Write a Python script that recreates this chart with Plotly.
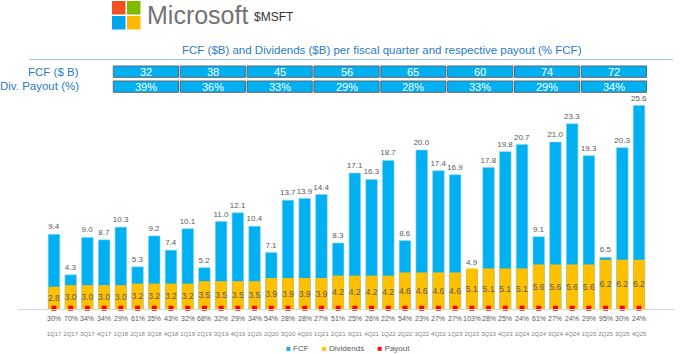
import plotly.graph_objects as go

quarters = ["1Q17","2Q17","3Q17","4Q17","1Q18","2Q18","3Q18","4Q18","1Q19","2Q19","3Q19","4Q19",
            "1Q20","2Q20","3Q20","4Q20","1Q21","2Q21","3Q21","4Q21","1Q22","2Q22","3Q22","4Q22",
            "1Q23","2Q23","3Q23","4Q23","1Q24","2Q24","3Q24","4Q24","1Q25","2Q25","3Q25","4Q25"]
fcf = [9.4,4.3,9.0,8.7,10.3,5.3,9.2,7.4,10.1,5.2,11.0,12.1,10.4,7.1,13.7,13.9,14.4,8.3,17.1,16.3,
       18.7,8.6,20.0,17.4,16.9,4.9,17.8,19.8,20.7,9.1,21.0,23.3,19.3,6.5,20.3,25.6]
dividends = [2.8,3.0,3.0,3.0,3.0,3.2,3.2,3.2,3.2,3.5,3.5,3.5,3.5,3.9,3.9,3.9,3.9,4.2,4.2,4.2,
             4.2,4.6,4.6,4.6,4.6,5.1,5.1,5.1,5.1,5.6,5.6,5.6,5.6,6.2,6.2,6.2]
payout = [30,70,34,34,29,61,35,43,32,68,32,29,34,54,28,28,27,51,25,26,22,54,23,27,27,103,28,25,
          24,61,27,24,29,95,30,24]
# Fiscal-year summary table (FY18..FY25), each spanning 4 quarters
fy_start_quarter = ["1Q18","1Q19","1Q20","1Q21","1Q22","1Q23","1Q24","1Q25"]
fy_fcf = [32,38,45,56,65,60,74,72]
fy_payout = [39,36,33,29,28,33,29,34]

W, H = 680, 354
L, R, T, B = 18, 5, 100, 45
PW, PH = W - L - R, H - T - B

def px_x(px):
    return (px - L) / PW

def px_y(py):
    return (H - B - py) / PH

BLUE = "#00B0F0"
YELLOW = "#FFC000"
RED = "#FF0000"
TXT = "#595959"
TITLE_BLUE = "#2B7BC4"
FONT = "Liberation Sans"

fig = go.Figure()
fig.add_trace(go.Bar(
    x=quarters, y=fcf, name="FCF", marker=dict(color=BLUE, line=dict(color="#7FD3F7", width=0.6)),
    text=[f"{v:.1f}" for v in fcf], textposition="outside", textangle=0,
    textfont=dict(size=8, color=TXT, family=FONT), constraintext="none", cliponaxis=False,
    showlegend=False))
fig.add_trace(go.Bar(
    x=quarters, y=dividends, name="Dividends", marker=dict(color=YELLOW, line=dict(width=0)),
    text=[f"{v:.1f}" for v in dividends], textposition="inside", insidetextanchor="middle",
    textangle=0, textfont=dict(size=8.5, color=TXT, family=FONT), constraintext="none",
    showlegend=False))
fig.add_trace(go.Scatter(
    x=quarters, y=[0.1] * len(quarters), name="Payout", mode="markers",
    marker=dict(symbol="square", size=5, color=RED), cliponaxis=False, showlegend=False))

shapes = []
annotations = []

# Payout % labels below the axis
for q, p in zip(quarters, payout):
    annotations.append(dict(x=q, y=0, xref="x", yref="y", yanchor="middle", xanchor="center",
                            yshift=-9, text=f"{p}%", showarrow=False,
                            font=dict(size=7, color=TXT, family=FONT)))

# Fiscal-year boxes
rows = [(66, 77.3, fy_fcf, "{}"), (81, 92.3, fy_payout, "{}%")]
for top, bot, vals, fmt in rows:
    for q, v in zip(fy_start_quarter, vals):
        i = quarters.index(q)
        shapes.append(dict(type="rect", xref="x", yref="paper", x0=i - 0.45, x1=i + 3.45,
                           y0=px_y(bot), y1=px_y(top), fillcolor=BLUE,
                           line=dict(color="#5A6570", width=1)))
        annotations.append(dict(x=i + 1.5, y=px_y((top + bot) / 2), xref="x", yref="paper",
                                xanchor="center", yanchor="middle",
                                text=fmt.format(v), showarrow=False,
                                font=dict(size=11, color="white", family=FONT)))

annotations.append(dict(x=px_x(81), y=px_y(72), xref="paper", yref="paper", xanchor="right",
                        yanchor="middle", text="FCF ($ B)", showarrow=False,
                        font=dict(size=11.5, color=TITLE_BLUE, family=FONT)))
annotations.append(dict(x=px_x(81), y=px_y(86.5), xref="paper", yref="paper", xanchor="right",
                        yanchor="middle", text="Div. Payout (%)", showarrow=False,
                        font=dict(size=11.5, color=TITLE_BLUE, family=FONT)))

# Title and underline
annotations.append(dict(x=px_x(382), y=px_y(50), xref="paper", yref="paper",
                        xanchor="center", yanchor="middle",
                        text="FCF ($B) and Dividends ($B) per fiscal quarter and respective payout (% FCF)",
                        showarrow=False, font=dict(size=11.5, color=TITLE_BLUE, family=FONT)))
shapes.append(dict(type="line", xref="paper", yref="paper", x0=px_x(29), x1=px_x(673),
                   y0=px_y(59.5), y1=px_y(59.5), line=dict(color="#9DC3E6", width=1)))

# Logo
for (x0, y0, c) in [(112, 1, "#F25022"), (127, 1, "#7FBA00"), (112, 16, "#00A4EF"), (127, 16, "#FFB900")]:
    shapes.append(dict(type="rect", xref="paper", yref="paper", x0=px_x(x0), x1=px_x(x0 + 13.5),
                       y0=px_y(y0 + 13.5), y1=px_y(y0), fillcolor=c, line=dict(width=0)))
annotations.append(dict(x=px_x(145), y=px_y(15), xref="paper", yref="paper", xanchor="left",
                        yanchor="middle", text="Microsoft", showarrow=False,
                        font=dict(size=25, color="#737373", family=FONT)))
annotations.append(dict(x=px_x(252), y=px_y(17), xref="paper", yref="paper", xanchor="left",
                        yanchor="middle", text="$MSFT", showarrow=False,
                        font=dict(size=12, color="#333333", family=FONT)))

# Legend
legend_text = (f"<span style='color:{BLUE}'>■</span> FCF      "
               f"<span style='color:{YELLOW}'>■</span> Dividends      "
               f"<span style='color:{RED}'>■</span> Payout")
annotations.append(dict(x=px_x(348), y=px_y(348), xref="paper", yref="paper",
                        xanchor="center", yanchor="middle",
                        text=legend_text, showarrow=False,
                        font=dict(size=8, color=TXT, family=FONT)))

fig.update_layout(
    width=W, height=H, margin=dict(l=L, r=R, t=T, b=B),
    barmode="overlay", bargap=0.31,
    plot_bgcolor="white", paper_bgcolor="white",
    shapes=shapes, annotations=annotations,
    xaxis=dict(showline=True, linecolor="#D9D9D9", linewidth=1, showgrid=False, ticks="",
               tickangle=0, tickfont=dict(size=6, color="#7F7F7F", family=FONT),
               ticklabelstandoff=19, fixedrange=True),
    yaxis=dict(range=[0, 26.3], showticklabels=False, showgrid=False, zeroline=False,
               fixedrange=True),
)

fig.write_html("out.html")
